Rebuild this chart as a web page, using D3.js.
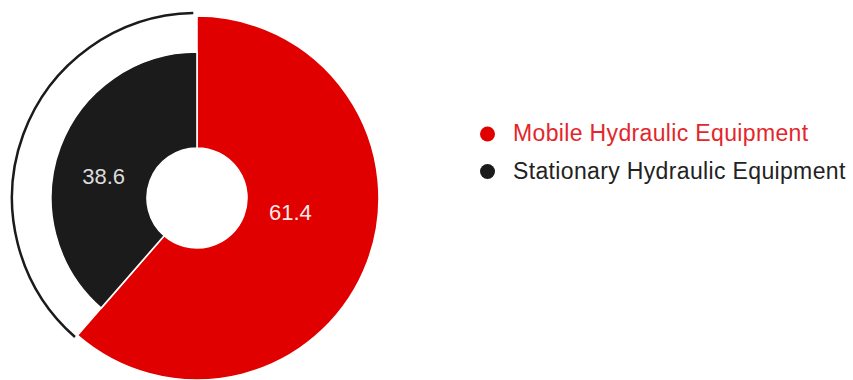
<!DOCTYPE html>
<html>
<head>
<meta charset="utf-8">
<script src="https://cdn.jsdelivr.net/npm/d3@7"></script>
<style>
  html, body { margin: 0; padding: 0; background: #fff; }
  svg { display: block; font-family: "Liberation Sans", Arial, sans-serif; }
</style>
</head>
<body>
<svg id="chart" width="853" height="380"></svg>
<script>
// Market share by equipment type (%)
const categories = ["Mobile Hydraulic Equipment", "Stationary Hydraulic Equipment"];
const values = [61.4, 38.6];
const sliceColors = ["#e10000", "#1b1b1b"];
const legendTextColors = ["#e3262b", "#222222"];
const labelColors = ["#fbe9e9", "#dcdcdc"];

const svg = d3.select("#chart");
const cx = 197, cy = 198;
const innerR = 50;
const outerR = [182, 146];   // the leading share is drawn with a wider ring
const outlineR = 185;

const data = categories.map((c, i) => ({ category: c, value: values[i], i }));

const pie = d3.pie().value(d => d.value).sort(null);
const arcs = pie(data);

const g = svg.append("g").attr("transform", `translate(${cx},${cy})`);

// thin outline tracing the full radius behind the smaller slice
const small = arcs[1];
g.append("path")
  .attr("d", d3.arc()({
    innerRadius: outlineR, outerRadius: outlineR,
    startAngle: small.startAngle + 0.004, endAngle: small.endAngle - 0.02
  }).split("L")[0])
  .attr("fill", "none")
  .attr("stroke", "#1b1b1b")
  .attr("stroke-width", 2.5);

// slices
g.selectAll("path.slice")
  .data(arcs)
  .join("path")
  .attr("class", "slice")
  .attr("d", d => d3.arc().innerRadius(innerR).outerRadius(outerR[d.data.i])(d))
  .attr("fill", d => sliceColors[d.data.i])
  .attr("stroke", "#ffffff")
  .attr("stroke-width", 1.6)
  .attr("stroke-linejoin", "round");

// value labels
const labelR = 95;
const labelShift = 0.17;
g.selectAll("text.val")
  .data(arcs)
  .join("text")
  .attr("class", "val")
  .attr("x", d => labelR * Math.sin((d.startAngle + d.endAngle) / 2 - labelShift))
  .attr("y", d => -labelR * Math.cos((d.startAngle + d.endAngle) / 2 - labelShift) - 3.5)
  .attr("text-anchor", "middle")
  .attr("dominant-baseline", "central")
  .attr("font-size", 22)
  .attr("fill", d => labelColors[d.data.i])
  .text(d => d3.format(".1f")(d.data.value));

// legend
const legend = svg.append("g").attr("transform", "translate(487.5,134)");
const rowGap = 37.5;
const rows = legend.selectAll("g.row")
  .data(data)
  .join("g")
  .attr("class", "row")
  .attr("transform", d => `translate(0,${d.i * rowGap})`);
rows.append("circle")
  .attr("r", 7.5)
  .attr("fill", d => sliceColors[d.i]);
rows.append("text")
  .attr("x", 25.5)
  .attr("y", -1)
  .attr("dominant-baseline", "central")
  .attr("font-size", 23)
  .attr("letter-spacing", 0.35)
  .attr("fill", d => legendTextColors[d.i])
  .text(d => d.category);
</script>
</body>
</html>
